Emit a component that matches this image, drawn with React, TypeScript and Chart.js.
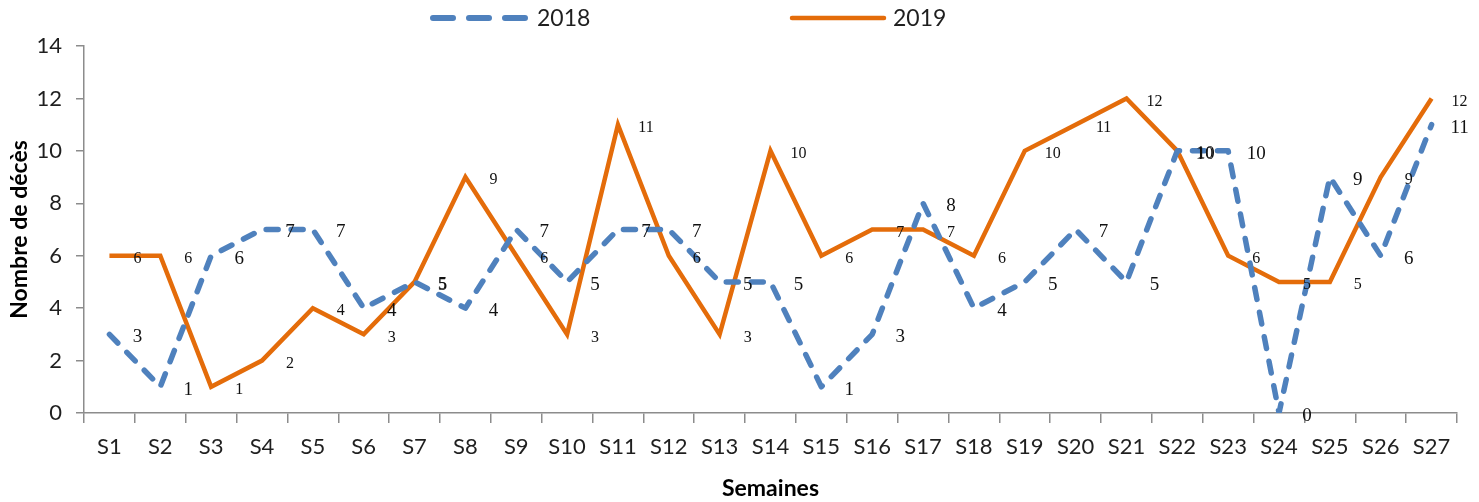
import React, { useEffect, useRef } from "react";
import { Chart, registerables } from "chart.js";

Chart.register(...registerables);

const weeks = [
  "S1", "S2", "S3", "S4", "S5", "S6", "S7", "S8", "S9", "S10",
  "S11", "S12", "S13", "S14", "S15", "S16", "S17", "S18", "S19", "S20",
  "S21", "S22", "S23", "S24", "S25", "S26", "S27",
];
const deaths2018 = [3, 1, 6, 7, 7, 4, 5, 4, 7, 5, 7, 7, 5, 5, 1, 3, 8, 4, 5, 7, 5, 10, 10, 0, 9, 6, 11];
const deaths2019 = [6, 6, 1, 2, 4, 3, 5, 9, 6, 3, 11, 6, 3, 10, 6, 7, 7, 6, 10, 11, 12, 10, 6, 5, 5, 9, 12];
const seriesNames = ["2018", "2019"];
const yMin = 0;
const yMax = 14;
const yStep = 2;

const BLUE = "#4F81BD";
const ORANGE = "#E46C0A";
const TEXT = "#1F1F1F";
const AXIS = "#8C8C8C";
const SANS = "Lato, 'Open Sans', sans-serif";
const SERIF = "'Liberation Serif', 'DejaVu Serif', serif";

const valueLabels = {
  id: "valueLabels",
  afterDatasetsDraw(chart: any) {
    const ctx = chart.ctx;
    chart.data.datasets.forEach((ds: any, i: number) => {
      const meta = chart.getDatasetMeta(i);
      ctx.save();
      ctx.font = i === 0 ? `19px ${SERIF}` : `16px ${SERIF}`;
      ctx.fillStyle = "#111";
      ctx.textAlign = "center";
      ctx.textBaseline = "middle";
      meta.data.forEach((pt: any, j: number) => {
        ctx.fillText(String(ds.data[j]), pt.x + 28, pt.y + 3);
      });
      ctx.restore();
    });
  },
};

const customLegend = {
  id: "customLegend",
  afterDraw(chart: any) {
    const ctx = chart.ctx;
    const y = 18;
    const items = [
      { x0: 433, x1: 527, tx: 537, dash: [20, 16], color: BLUE, width: 6, text: seriesNames[0] },
      { x0: 792, x1: 884, tx: 893, dash: [], color: ORANGE, width: 4.5, text: seriesNames[1] },
    ];
    items.forEach((it) => {
      ctx.save();
      ctx.strokeStyle = it.color;
      ctx.lineWidth = it.width;
      ctx.lineCap = "round";
      ctx.setLineDash(it.dash);
      ctx.beginPath();
      ctx.moveTo(it.x0, y);
      ctx.lineTo(it.x1, y);
      ctx.stroke();
      ctx.setLineDash([]);
      ctx.font = `23px ${SANS}`;
      ctx.fillStyle = TEXT;
      ctx.textAlign = "left";
      ctx.textBaseline = "middle";
      ctx.fillText(it.text, it.tx, y + 1);
      ctx.restore();
    });
  },
};

export default function App() {
  const ref = useRef<HTMLCanvasElement | null>(null);

  useEffect(() => {
    document.body.style.margin = "0";
    document.body.style.overflow = "hidden";
    if (!ref.current) return;
    const chart = new Chart(ref.current, {
      type: "line",
      data: {
        labels: weeks,
        datasets: [
          {
            label: seriesNames[0],
            data: deaths2018,
            borderColor: BLUE,
            backgroundColor: BLUE,
            borderWidth: 5.5,
            borderDash: [12, 13],
            borderCapStyle: "round",
            borderJoinStyle: "round",
            pointRadius: 0,
            tension: 0,
            fill: false,
          },
          {
            label: seriesNames[1],
            data: deaths2019,
            borderColor: ORANGE,
            backgroundColor: ORANGE,
            borderWidth: 4.5,
            borderJoinStyle: "miter",
            pointRadius: 0,
            tension: 0,
            fill: false,
          },
        ],
      },
      options: {
        responsive: false,
        animation: false,
        layout: { padding: { top: 46, right: 22, left: 0, bottom: 0 } },
        plugins: {
          legend: { display: false },
          tooltip: { enabled: false },
        },
        scales: {
          x: {
            type: "category",
            offset: true,
            grid: {
              offset: true,
              drawOnChartArea: false,
              drawTicks: true,
              tickLength: 10,
              color: AXIS,
              lineWidth: 1.5,
            },
            border: { display: true, color: AXIS, width: 1.5 },
            ticks: {
              color: TEXT,
              font: { family: SANS, size: 22 },
              padding: 11,
              maxRotation: 0,
              autoSkip: false,
            },
            title: {
              display: true,
              text: "Semaines",
              color: "#000",
              font: { family: SANS, size: 23, weight: "bold" },
              padding: { top: 0, bottom: 0 },
            },
            afterFit(scale: any) {
              scale.height = 89;
            },
          },
          y: {
            min: yMin,
            max: yMax,
            ticks: {
              stepSize: yStep,
              color: TEXT,
              font: { family: SANS, size: 22 },
              padding: 14,
            },
            grid: {
              drawOnChartArea: false,
              drawTicks: true,
              tickLength: 8,
              color: AXIS,
              lineWidth: 1.5,
            },
            border: { display: true, color: AXIS, width: 1.5 },
            title: {
              display: true,
              text: "Nombre de décès",
              color: "#000",
              font: { family: SANS, size: 23, weight: "bold" },
              padding: { top: 6, bottom: 0 },
            },
            afterFit(scale: any) {
              scale.width = 84;
            },
          },
        },
      },
      plugins: [valueLabels, customLegend],
    } as any);
    return () => chart.destroy();
  }, []);

  return (
    <div style={{ width: 1479, height: 502, background: "#fff" }}>
      <canvas ref={ref} width={1479} height={502} style={{ display: "block" }} />
    </div>
  );
}
